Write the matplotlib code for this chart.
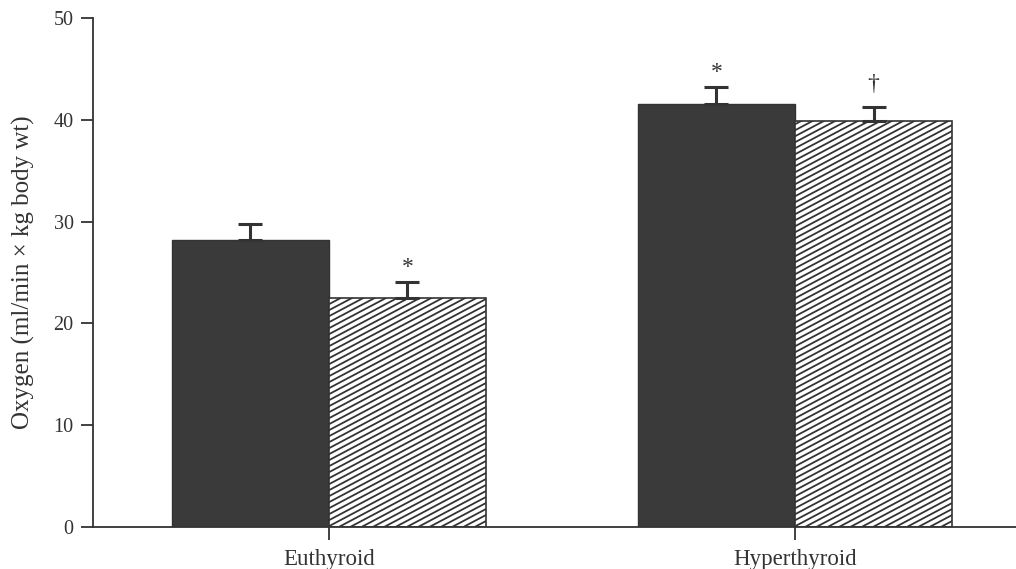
import matplotlib.pyplot as plt
import numpy as np
from matplotlib.lines import Line2D
from matplotlib.transforms import IdentityTransform

plt.rcParams["font.family"] = ["Liberation Serif", "DejaVu Serif"]

groups = ["Euthyroid", "Hyperthyroid"]
solid_means = [28.2, 41.6]
solid_err = [1.55, 1.6]
hatched_means = [22.5, 39.9]
hatched_err = [1.6, 1.4]
solid_marks = ["", "*"]
hatched_marks = ["*", "\u2020"]

DARK = "#3a3a3a"
LINE = "#333333"
BAR_W = 0.337
MARK_OFFSET = {"*": 10.5, "\u2020": 16}


def hatch_bar(ax, bar, spacing=6.0, slope=0.53):
    # diagonal lines drawn in pixel space and clipped to the bar
    x0, y0, x1, y1 = bar.get_window_extent().extents
    w = x1 - x0
    start = y0 - slope * w - spacing
    for c in np.arange(start, y1 + spacing, spacing):
        ln = Line2D([x0, x1], [c, c + slope * w], transform=IdentityTransform(),
                    color=LINE, lw=1.3, zorder=2.5)
        ax.add_artist(ln)
        ln.set_clip_path(bar)


def mark(ax, xs, means, errs, marks):
    for xi, m, e, s in zip(xs, means, errs, marks):
        if not s:
            continue
        ax.annotate(s, (xi, m + e), xytext=(0, MARK_OFFSET[s]),
                    textcoords="offset points", ha="center", va="center",
                    fontsize=17, color=LINE)


fig = plt.figure(figsize=(10.16, 5.69), dpi=100)
ax = fig.add_axes([93 / 1016, 42 / 569, 923 / 1016, 509 / 569])

x = np.arange(len(groups))
err_kw = dict(ecolor=LINE, elinewidth=2.2, capsize=8.5, capthick=2.2)
solid = ax.bar(x - BAR_W / 2, solid_means, BAR_W, color=DARK, edgecolor=LINE,
               linewidth=1, yerr=[np.zeros(2), solid_err], error_kw=err_kw, zorder=2)
hatched = ax.bar(x + BAR_W / 2, hatched_means, BAR_W, color="white", edgecolor=LINE,
                 linewidth=1.2, yerr=[np.zeros(2), hatched_err], error_kw=err_kw, zorder=2)

mark(ax, x - BAR_W / 2, solid_means, solid_err, solid_marks)
mark(ax, x + BAR_W / 2, hatched_means, hatched_err, hatched_marks)

ax.set_xlim(-0.506, 1.474)
ax.set_ylim(0, 50)
ax.set_yticks(range(0, 51, 10))
ax.set_xticks(x)
ax.set_xticklabels(groups)
ax.set_ylabel("Oxygen (ml/min \u00d7 kg body wt)", fontsize=18, color=LINE, labelpad=13)

for side in ["top", "right"]:
    ax.spines[side].set_visible(False)
for side in ["left", "bottom"]:
    ax.spines[side].set_color(LINE)
    ax.spines[side].set_linewidth(1.3)
ax.tick_params(axis="y", length=9, width=1.3, color=LINE, labelsize=14.5,
               labelcolor=LINE, pad=5)
ax.tick_params(axis="x", length=9, width=1.3, color=LINE, labelsize=16.5,
               labelcolor=LINE, pad=7)

fig.canvas.draw()
for bar in hatched:
    hatch_bar(ax, bar)

fig.savefig("out.png", dpi=100)
